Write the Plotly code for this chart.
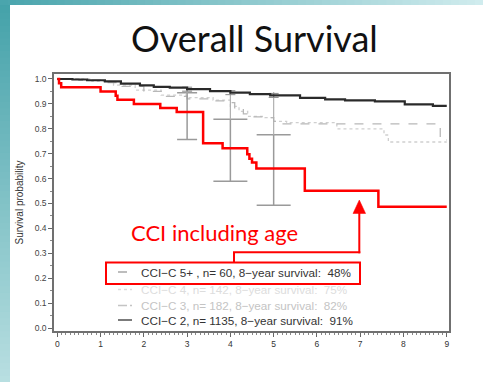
import plotly.graph_objects as go

# ---------------- data ----------------
# CCI-C 5+ (red, highlighted)
t_c5 = [0, 0.04, 0.09, 1.0, 1.35, 1.39, 1.77, 2.38, 2.76, 3.37, 3.82, 4.39, 4.44, 4.5, 4.6, 5.72, 7.42, 9.0]
s_c5 = [1.0, 0.983, 0.967, 0.95, 0.933, 0.917, 0.90, 0.883, 0.867, 0.742, 0.722, 0.698, 0.68, 0.665, 0.641, 0.551, 0.487, 0.487]

# CCI-C 4 (very light dotted)
t_c4 = [0, 0.8, 1.3, 1.8, 2.4, 3.0, 3.6, 4.0, 4.2, 4.4, 4.8, 5.0, 5.3, 6.46, 7.55, 7.65, 9.0]
s_c4 = [1.0, 0.99, 0.975, 0.955, 0.935, 0.925, 0.915, 0.89, 0.87, 0.85, 0.845, 0.83, 0.825, 0.80, 0.775, 0.747, 0.747]

# CCI-C 3 (light dashed)
t_c3 = [0, 0.5, 1.0, 1.5, 2.0, 2.4, 3.0, 3.5, 3.9, 4.1, 4.3, 4.5, 4.9, 5.0, 5.2, 6.0, 7.0, 8.0, 8.85, 9.0]
s_c3 = [1.0, 0.995, 0.985, 0.97, 0.95, 0.93, 0.92, 0.912, 0.905, 0.88, 0.86, 0.848, 0.845, 0.83, 0.82, 0.82, 0.82, 0.82, 0.755, 0.755]

# CCI-C 2 (black)
t_c2 = [0, 0.35, 0.69, 1.1, 1.47, 1.91, 2.23, 2.6, 3.0, 3.53, 4.0, 4.45, 4.92, 5.61, 6.19, 6.65, 7.34, 8.03, 8.68, 9.0]
s_c2 = [1.0, 0.998, 0.995, 0.99, 0.981, 0.974, 0.968, 0.965, 0.959, 0.951, 0.945, 0.939, 0.934, 0.924, 0.918, 0.914, 0.91, 0.898, 0.892, 0.892]

# confidence intervals for CCI-C 5+ at 3, 4, 5 years
ci_t = [3, 4, 5]
ci_est = [0.867, 0.722, 0.641]
ci_low = [0.757, 0.589, 0.493]
ci_up = [0.945, 0.838, 0.776]
ci_top = [0.968, 0.955, 0.948]
# CI for CCI-C 2
ci2_est = [0.959, 0.945, 0.934]
ci2_half = [0.008, 0.008, 0.008]

x_ticks = [0, 1, 2, 3, 4, 5, 6, 7, 8, 9]
y_ticks = [0.0, 0.1, 0.2, 0.3, 0.4, 0.5, 0.6, 0.7, 0.8, 0.9, 1.0]

legend_labels = [
    "CCI\u2212C 5+ , n= 60, 8\u2212year survival:  48%",
    "CCI\u2212C 4, n= 142, 8\u2212year survival:  75%",
    "CCI\u2212C 3, n= 182, 8\u2212year survival:  82%",
    "CCI\u2212C 2, n= 1135, 8\u2212year survival:  91%",
]
legend_text_colors = ["#333333", "#dddddd", "#c4c4c4", "#333333"]
legend_line_colors = ["#999999", "#dddddd", "#c4c4c4", "#333333"]
legend_dashes = ["dash", "dot", "dashdot", "solid"]

# ---------------- layout helpers (pixel -> paper) ----------------
W, H = 483, 382
ML, MR, MT, MB = 54, 34, 74, 51
PW, PH = W - ML - MR, H - MT - MB


def PX(x):
    return (x - ML) / PW


def PY(y):
    return (H - MB - y) / PH


fig = go.Figure()

fig.add_trace(go.Scatter(x=t_c4, y=s_c4, mode="lines", line=dict(color="#cfcfcf", width=1.3, dash="dot", shape="hv"),
                         showlegend=False, hoverinfo="skip"))
fig.add_trace(go.Scatter(x=t_c3, y=s_c3, mode="lines", line=dict(color="#b8b8b8", width=1.3, dash="dash", shape="hv"),
                         showlegend=False, hoverinfo="skip"))

# CI bars
fig.add_trace(go.Scatter(x=ci_t[:1], y=ci_est[:1], mode="markers", marker=dict(size=1, color="rgba(0,0,0,0)"),
                         error_y=dict(type="data", symmetric=False,
                                      array=[ci_up[0] - ci_est[0]], arrayminus=[ci_est[0] - ci_low[0]],
                                      color="#9a9a9a", thickness=1.5, width=10),
                         showlegend=False, hoverinfo="skip"))
fig.add_trace(go.Scatter(x=ci_t[1:], y=ci_est[1:], mode="markers", marker=dict(size=1, color="rgba(0,0,0,0)"),
                         error_y=dict(type="data", symmetric=False,
                                      array=[u - e for u, e in zip(ci_up[1:], ci_est[1:])],
                                      arrayminus=[e - l for e, l in zip(ci_est[1:], ci_low[1:])],
                                      color="#9a9a9a", thickness=1.5, width=17),
                         showlegend=False, hoverinfo="skip"))
fig.add_trace(go.Scatter(x=ci_t, y=ci_up, mode="markers", marker=dict(size=1, color="rgba(0,0,0,0)"),
                         error_y=dict(type="data", symmetric=False,
                                      array=[tp - u for tp, u in zip(ci_top, ci_up)], arrayminus=[0, 0, 0],
                                      color="#b0b0b0", thickness=1.2, width=0),
                         showlegend=False, hoverinfo="skip"))
fig.add_trace(go.Scatter(x=ci_t, y=ci2_est, mode="markers", marker=dict(size=1, color="rgba(0,0,0,0)"),
                         error_y=dict(type="data", array=ci2_half, color="#888888", thickness=1, width=5),
                         showlegend=False, hoverinfo="skip"))

fig.add_trace(go.Scatter(x=t_c2, y=s_c2, mode="lines", line=dict(color="#2a2a2a", width=2.2, shape="hv"),
                         showlegend=False, hoverinfo="skip"))
fig.add_trace(go.Scatter(x=t_c5, y=s_c5, mode="lines", line=dict(color="#ff0000", width=2.5, shape="hv"),
                         showlegend=False, hoverinfo="skip"))

shapes = []
annotations = []

# slide background gradient bands (overlapping stripes to avoid seams)
n = 60
for i in range(n):
    f = i / (n - 1)
    r = int(0x45 + (0xb8 - 0x45) * f)
    g = int(0xa2 + (0xdf - 0xa2) * f)
    b = int(0xaa + (0xe1 - 0xaa) * f)
    col = f"rgb({r},{g},{b})"
    shapes.append(dict(type="rect", xref="paper", yref="paper", layer="below",
                       x0=PX(0), x1=PX(10), y0=PY(H * (i + 1) / n + 1), y1=PY(H * i / n),
                       fillcolor=col, line=dict(width=0)))
for i in range(n):
    f = i / (n - 1)
    r = int(0x4a + (0xd0 - 0x4a) * f)
    g = int(0xa5 + (0xec - 0xa5) * f)
    b = int(0xad + (0xee - 0xad) * f)
    col = f"rgb({r},{g},{b})"
    shapes.append(dict(type="rect", xref="paper", yref="paper", layer="below",
                       x0=PX(W * i / n), x1=PX(W * (i + 1) / n + 1), y0=PY(5), y1=PY(0),
                       fillcolor=col, line=dict(width=0)))

# legend
leg_y = [272, 289.5, 305.5, 320]
for lbl, tc, lc, ds, yy in zip(legend_labels, legend_text_colors, legend_line_colors, legend_dashes, leg_y):
    shapes.append(dict(type="line", xref="paper", yref="paper", x0=PX(118), x1=PX(132), y0=PY(yy), y1=PY(yy),
                       line=dict(color=lc, width=1.3, dash=ds)))
    annotations.append(dict(xref="paper", yref="paper", x=PX(139), y=PY(yy), text=lbl, showarrow=False,
                            xanchor="left", yanchor="middle",
                            font=dict(family="Liberation Sans, Arial", size=11.7, color=tc)))

# red highlight box and arrow
red = "#ff0000"
shapes.append(dict(type="rect", xref="paper", yref="paper", x0=PX(106), x1=PX(360), y0=PY(284), y1=PY(262.5),
                   line=dict(color=red, width=2)))
shapes.append(dict(type="line", xref="paper", yref="paper", x0=PX(234), x1=PX(234), y0=PY(262.5), y1=PY(252.3),
                   line=dict(color=red, width=2)))
shapes.append(dict(type="line", xref="paper", yref="paper", x0=PX(233), x1=PX(360.3), y0=PY(252.3), y1=PY(252.3),
                   line=dict(color=red, width=2)))
shapes.append(dict(type="line", xref="paper", yref="paper", x0=PX(359.3), x1=PX(359.3), y0=PY(253.3), y1=PY(212),
                   line=dict(color=red, width=2)))
shapes.append(dict(type="path", xref="paper", yref="paper",
                   path=f"M {PX(353)} {PY(213.5)} L {PX(365.6)} {PY(213.5)} L {PX(359.3)} {PY(200)} Z",
                   fillcolor=red, line=dict(color=red, width=0.5)))

annotations.append(dict(xref="paper", yref="paper", x=PX(214), y=PY(232), text="CCI including age",
                        showarrow=False, xanchor="center", yanchor="middle",
                        font=dict(family="Lato, Open Sans", size=22, color=red)))

annotations.append(dict(xref="paper", yref="paper", x=PX(254), y=PY(38), text="Overall Survival",
                        showarrow=False, xanchor="center", yanchor="middle",
                        font=dict(family="Lato, Open Sans", size=36, color="#111111")))

fig.update_layout(
    width=W, height=H,
    margin=dict(l=ML, r=MR, t=MT, b=MB),
    paper_bgcolor="white", plot_bgcolor="white",
    shapes=shapes, annotations=annotations,
    showlegend=False,
    xaxis=dict(range=[-0.076, 9.052], tickvals=x_ticks, ticktext=[str(v) for v in x_ticks],
               ticks="outside", ticklen=4, tickcolor="#666", showgrid=False, zeroline=False,
               showline=True, linecolor="#707070", linewidth=1.5, mirror=True,
               tickfont=dict(family="Liberation Sans, Arial", size=8.5, color="#333"),
               minor=dict(ticks="outside", ticklen=2, dtick=0.1, tick0=0, tickcolor="#888")),
    yaxis=dict(range=[-0.012, 1.02], tickvals=y_ticks, tickformat=".1f",
               ticks="outside", ticklen=4, tickcolor="#666", showgrid=False, zeroline=False,
               showline=True, linecolor="#707070", linewidth=1.5, mirror=True,
               tickfont=dict(family="Liberation Sans, Arial", size=8.5, color="#444"),
               minor=dict(ticks="outside", ticklen=2, dtick=0.05, tick0=0, tickcolor="#888"),
               title=dict(text="Survival probability", standoff=9,
                          font=dict(family="Liberation Sans, Arial", size=10, color="#333"))),
)

fig.write_html("out.html")
